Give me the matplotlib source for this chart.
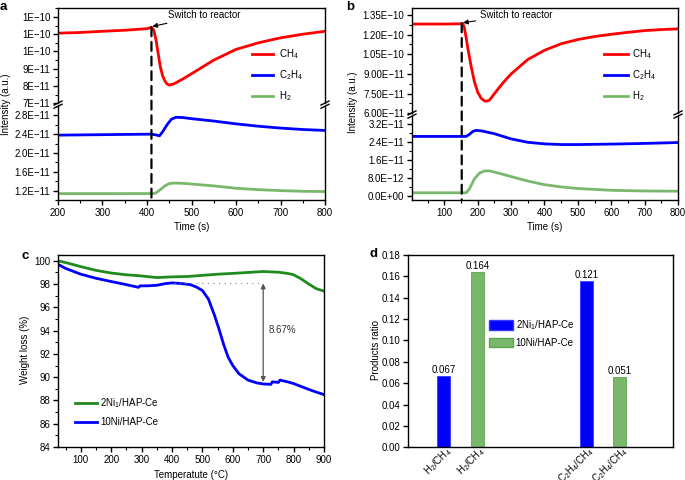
import matplotlib.pyplot as plt
import matplotlib.ticker as mticker
import matplotlib.transforms as mtransforms
from matplotlib.patches import ConnectionPatch, Patch
import numpy as np

plt.rcParams['font.family'] = ['Liberation Sans', 'DejaVu Sans']
plt.rcParams['font.size'] = 7
plt.rcParams['mathtext.default'] = 'regular'
plt.rcParams['axes.linewidth'] = 1.0

W, H = 685, 480

# ---- panel a: switch at 410 s ----
t_a_ch4 = [200, 250, 300, 350, 400, 410, 415, 420, 425, 430, 435, 440, 445, 450,
           460, 480, 500, 550, 600, 650, 700, 750, 800]
ch4_a = np.array([11.06, 11.1, 11.17, 11.23, 11.32, 11.4, 11.25, 10.7, 9.9, 9.1, 8.6, 8.3,
                  8.12, 8.05, 8.12, 8.4, 8.71, 9.5, 10.12, 10.5, 10.79, 11.0, 11.17]) * 1e-11
t_a_c2h4 = [200, 300, 400, 410, 420, 428, 435, 445, 455, 465, 480, 500, 550, 600, 650, 700, 750, 800]
c2h4_a = np.array([2.38, 2.39, 2.40, 2.40, 2.385, 2.365, 2.45, 2.6, 2.72, 2.76, 2.755, 2.73,
                   2.68, 2.62, 2.57, 2.53, 2.50, 2.48]) * 1e-11
t_a_h2 = [200, 300, 415, 420, 430, 440, 450, 460, 480, 500, 550, 600, 650, 700, 750, 800]
h2_a = np.array([1.136, 1.136, 1.137, 1.15, 1.22, 1.30, 1.35, 1.36, 1.355, 1.34, 1.30, 1.25,
                 1.22, 1.20, 1.185, 1.18]) * 1e-11
switch_a = 410

# ---- panel b: switch at 152 s ----
t_b_ch4 = [3, 50, 100, 150, 155, 160, 165, 170, 180, 190, 200, 210, 220, 225, 235, 250, 275,
           300, 350, 400, 450, 500, 550, 600, 650, 700, 750, 800]
ch4_b = np.array([12.8, 12.8, 12.8, 12.82, 12.85, 12.5, 11.8, 11.0, 9.6, 8.4, 7.6, 7.15, 6.95,
                  6.92, 7.0, 7.5, 8.3, 9.0, 10.1, 10.8, 11.3, 11.62, 11.85, 12.02, 12.17,
                  12.3, 12.38, 12.43]) * 1e-11
t_b_c2h4 = [3, 100, 165, 175, 185, 195, 210, 250, 300, 350, 400, 450, 500, 600, 700, 800]
c2h4_b = np.array([2.63, 2.63, 2.63, 2.72, 2.85, 2.9, 2.88, 2.75, 2.52, 2.37, 2.3, 2.27, 2.27,
                   2.29, 2.32, 2.36]) * 1e-11
t_b_h2 = [3, 100, 165, 175, 190, 205, 220, 235, 250, 300, 350, 400, 450, 500, 600, 700, 800]
h2_b = np.array([0.13, 0.13, 0.13, 0.3, 0.75, 1.0, 1.1, 1.1, 1.05, 0.85, 0.65, 0.49, 0.39,
                 0.32, 0.24, 0.21, 0.2]) * 1e-11
switch_b = 152

# ---- panel c: TGA ----
temp_ni1 = [25, 50, 100, 150, 200, 250, 300, 350, 400, 450, 500, 550, 600, 650, 700, 750,
            780, 800, 825, 850, 875, 900]
wt_ni1 = [100.0, 99.85, 99.5, 99.18, 98.95, 98.8, 98.7, 98.56, 98.62, 98.65, 98.75, 98.85,
          98.92, 99.0, 99.08, 99.02, 98.92, 98.8, 98.45, 98.0, 97.6, 97.4]
temp_ni10 = [25, 50, 100, 150, 200, 250, 290, 295, 320, 350, 380, 400, 430, 460, 480, 500,
             520, 540, 555, 570, 585, 600, 620, 650, 680, 700, 725, 730, 750, 755, 780, 800,
             830, 860, 900]
wt_ni10 = [99.7, 99.35, 98.85, 98.5, 98.22, 97.95, 97.72, 97.85, 97.85, 97.9, 98.05, 98.1,
           98.05, 97.95, 97.75, 97.45, 96.7, 95.3, 94.1, 92.8, 91.7, 91.0, 90.3, 89.75,
           89.5, 89.42, 89.38, 89.6, 89.55, 89.75, 89.6, 89.45, 89.15, 88.85, 88.5]

# ---- panel d: product ratios ----
ratio_names = ['H$_2$/CH$_4$', 'H$_2$/CH$_4$', 'C$_2$H$_4$/CH$_4$', 'C$_2$H$_4$/CH$_4$']
ratio_pos = [1, 2, 5.25, 6.25]
ratio_vals = [0.067, 0.164, 0.156, 0.066]
ratio_text = ['0.067', '0.164', '0.121', '0.051']

red, blue, lgreen, dgreen = '#ff0000', '#0000ff', '#79b86b', '#1f8b1f'


def sci(fmt):
    return mticker.FuncFormatter(lambda v, p: (fmt % v).replace('-', '\u2212'))


def style(ax):
    ax.tick_params(which='major', direction='out', length=3.5, width=1, labelsize=7, pad=2)
    ax.tick_params(which='minor', direction='out', length=2, width=0.8)
    ax.tick_params(top=False, right=False, which='both')


def broken(fig, ax_up, ax_lo, gap_px):
    ax_up.spines['bottom'].set_visible(False)
    ax_lo.spines['top'].set_visible(False)
    ax_up.tick_params(axis='x', which='both', bottom=False, labelbottom=False)
    pos = ax_lo.get_position()
    yc = pos.y1 + gap_px / 2 / H
    for xf in (pos.x0, pos.x1):
        for off in (-1.6, 1.6):
            fig.add_artist(plt.Line2D([xf - 4 / W, xf + 4 / W],
                                      [yc + (off - 2) / H, yc + (off + 2) / H],
                                      color='k', lw=1, transform=fig.transFigure))


fig = plt.figure(figsize=(6.85, 4.8), dpi=100)

# ================= a =================
a_up = fig.add_axes([58 / W, 1 - 103.3 / H, 267 / W, 95 / H])
a_lo = fig.add_axes([58 / W, 1 - 200 / H, 267 / W, 94 / H])
for ax in (a_up, a_lo):
    ax.plot(t_a_ch4, ch4_a, color=red, lw=2, label='CH$_4$')
    ax.plot(t_a_c2h4, c2h4_a, color=blue, lw=2, label='C$_2$H$_4$')
    ax.plot(t_a_h2, h2_a, color=lgreen, lw=2, label='H$_2$')
    ax.set_xlim(200, 800)
    ax.xaxis.set_major_locator(mticker.MultipleLocator(100))
    ax.xaxis.set_minor_locator(mticker.MultipleLocator(50))
    style(ax)
a_up.set_ylim(7e-11, 12.5e-11)
a_up.set_yticks(np.array([7, 8, 9, 10, 11, 12]) * 1e-11)
a_up.yaxis.set_minor_locator(mticker.MultipleLocator(0.5e-11))
a_up.yaxis.set_major_formatter(sci('%.0E'))
a_lo.set_ylim(1.0e-11, 3.0e-11)
a_lo.set_yticks(np.array([1.2, 1.6, 2.0, 2.4, 2.8]) * 1e-11)
a_lo.yaxis.set_minor_locator(mticker.MultipleLocator(0.2e-11))
a_lo.yaxis.set_major_formatter(sci('%.1E'))
a_lo.set_xlabel('Time (s)', fontsize=7, labelpad=3)
broken(fig, a_up, a_lo, 2.7)
fig.add_artist(ConnectionPatch(xyA=(switch_a, 11.4e-11), coordsA=a_up.transData,
                               xyB=(switch_a, 1.0e-11), coordsB=a_lo.transData,
                               color='k', lw=1.6, linestyle=(0, (4, 2.6))))
a_up.annotate('Switch to reactor', xy=(switch_a + 2, 11.45e-11), xytext=(447, 12.1e-11),
              fontsize=7, va='center', ha='left',
              arrowprops=dict(arrowstyle='-|>', color='k', lw=0.8, mutation_scale=7,
                              shrinkA=1, shrinkB=0))
a_up.legend(loc='center left', bbox_to_anchor=(252 / W, 1 - 75 / H), bbox_transform=fig.transFigure,
            frameon=False, fontsize=7, handlelength=2.2, handletextpad=0.6,
            labelspacing=0.75, borderpad=0, borderaxespad=0)
fig.text(6 / W, 1 - 104 / H, 'Intensity (a.u.)', rotation=90, fontsize=7, ha='center', va='center')
fig.text(0 / W, 1 - 10 / H, 'a', fontsize=9.5, fontweight='bold', va='baseline')

# ================= b =================
b_up = fig.add_axes([412 / W, 1 - 113.3 / H, 266 / W, 105 / H])
b_lo = fig.add_axes([412 / W, 1 - 200 / H, 266 / W, 84.3 / H])
for ax in (b_up, b_lo):
    ax.plot(t_b_ch4, ch4_b, color=red, lw=2, label='CH$_4$')
    ax.plot(t_b_c2h4, c2h4_b, color=blue, lw=2, label='C$_2$H$_4$')
    ax.plot(t_b_h2, h2_b, color=lgreen, lw=2, label='H$_2$')
    ax.set_xlim(3, 800)
    ax.xaxis.set_major_locator(mticker.MultipleLocator(100))
    ax.xaxis.set_minor_locator(mticker.MultipleLocator(50))
    style(ax)
b_up.set_ylim(6.0e-11, 14.0e-11)
b_up.set_yticks(np.array([6.0, 7.5, 9.0, 10.5, 12.0, 13.5]) * 1e-11)
b_up.yaxis.set_minor_locator(mticker.MultipleLocator(0.75e-11))
b_up.yaxis.set_major_formatter(sci('%.2E'))
b_lo.set_ylim(-0.19e-11, 3.55e-11)
b_lo.set_yticks(np.array([0.0, 0.8, 1.6, 2.4, 3.2]) * 1e-11)
b_lo.yaxis.set_minor_locator(mticker.MultipleLocator(0.4e-11))
b_lo.yaxis.set_major_formatter(sci('%.1E'))
b_lo.set_xlabel('Time (s)', fontsize=7, labelpad=3)
broken(fig, b_up, b_lo, 2.4)
fig.add_artist(ConnectionPatch(xyA=(switch_b, 12.85e-11), coordsA=b_up.transData,
                               xyB=(switch_b, -0.19e-11), coordsB=b_lo.transData,
                               color='k', lw=1.6, linestyle=(0, (4, 2.6))))
b_up.annotate('Switch to reactor', xy=(switch_b + 4, 12.9e-11), xytext=(206, 13.5e-11),
              fontsize=7, va='center', ha='left',
              arrowprops=dict(arrowstyle='-|>', color='k', lw=0.8, mutation_scale=7,
                              shrinkA=1, shrinkB=0))
b_up.legend(loc='center left', bbox_to_anchor=(604 / W, 1 - 75 / H), bbox_transform=fig.transFigure,
            frameon=False, fontsize=7, handlelength=2.45, handletextpad=0.4,
            labelspacing=0.75, borderpad=0, borderaxespad=0)
fig.text(353 / W, 1 - 102 / H, 'Intensity (a.u.)', rotation=90, fontsize=7, ha='center', va='center')
fig.text(346 / W, 1 - 9.5 / H, 'b', fontsize=9.5, fontweight='bold', va='baseline')

# ================= c =================
ax_c = fig.add_axes([58 / W, 1 - 447 / H, 266 / W, 192 / H])
ax_c.plot(temp_ni1, wt_ni1, color=dgreen, lw=2, label='2Ni$_1$/HAP-Ce')
ax_c.plot(temp_ni10, wt_ni10, color=blue, lw=2, label='10Ni/HAP-Ce')
ax_c.set_xlim(25, 900)
ax_c.set_ylim(84, 100.5)
ax_c.xaxis.set_major_locator(mticker.MultipleLocator(100))
ax_c.xaxis.set_minor_locator(mticker.MultipleLocator(50))
ax_c.yaxis.set_major_locator(mticker.MultipleLocator(2))
ax_c.yaxis.set_minor_locator(mticker.MultipleLocator(1))
style(ax_c)
ax_c.hlines(98.1, 405, 700, colors='#888888', lw=0.8, linestyles=(0, (1, 4)))
ax_c.annotate('', xy=(700, 98.05), xytext=(700, 89.6),
              arrowprops=dict(arrowstyle='<|-|>', color='#555555', lw=0.9, mutation_scale=7,
                              shrinkA=0, shrinkB=0))
ax_c.text(718, 94.05, '8.67%', fontsize=7, va='center', ha='left', color='#333333')
ax_c.legend(loc='center left', bbox_to_anchor=(75 / W, 1 - 411.5 / H), bbox_transform=fig.transFigure,
            frameon=False, fontsize=7, handlelength=2.3, handletextpad=0.3,
            labelspacing=0.75, borderpad=0, borderaxespad=0)
ax_c.set_xlabel('Temperatute (\u00b0C)', fontsize=7, labelpad=4)
fig.text(25 / W, 1 - 350 / H, 'Weight loss (%)', rotation=90, fontsize=7, ha='center', va='center')
fig.text(21 / W, 1 - 259 / H, 'c', fontsize=9.5, fontweight='bold', va='baseline')

# ================= d =================
ax_d = fig.add_axes([408 / W, 1 - 447.3 / H, 265 / W, 192.3 / H])
bar_cols = [blue, lgreen, blue, lgreen]
edge_cols = ['#3a3aff', '#5ea64e', '#3a3aff', '#5ea64e']
bars = ax_d.bar(ratio_pos, ratio_vals, width=0.39, color=bar_cols, edgecolor=edge_cols, lw=0.6)
ax_d.bar_label(bars, labels=ratio_text, fontsize=7, padding=0.5)
ax_d.set_xlim(-0.07, 7.84)
ax_d.set_ylim(0, 0.18)
ax_d.yaxis.set_major_locator(mticker.MultipleLocator(0.02))
ax_d.yaxis.set_major_formatter(mticker.FormatStrFormatter('%.2f'))
ax_d.set_xticks(ratio_pos)
ax_d.set_xticklabels(ratio_names, rotation=45, ha='right', va='center', rotation_mode='anchor',
                     fontsize=5)
style(ax_d)
ax_d.tick_params(axis='x', length=0, pad=1.5)
shift = mtransforms.ScaledTranslation(0.06, 0, fig.dpi_scale_trans)
for lab in ax_d.get_xticklabels():
    lab.set_transform(lab.get_transform() + shift)
ax_d.legend(handles=[Patch(facecolor=blue, edgecolor='#3a3aff', label='2Ni$_1$/HAP-Ce'),
                     Patch(facecolor=lgreen, edgecolor='#5ea64e', label='10Ni/HAP-Ce')],
            loc='center left', bbox_to_anchor=(489 / W, 1 - 333 / H), bbox_transform=fig.transFigure,
            frameon=False, fontsize=7, handlelength=2.45, handleheight=1.15, handletextpad=0.3,
            labelspacing=0.55, borderpad=0, borderaxespad=0)
fig.text(376 / W, 1 - 350 / H, 'Products ratio', rotation=90, fontsize=7, ha='center', va='center')
fig.text(369 / W, 1 - 257 / H, 'd', fontsize=9.5, fontweight='bold', va='baseline')

fig.savefig('out.png', dpi=100)
